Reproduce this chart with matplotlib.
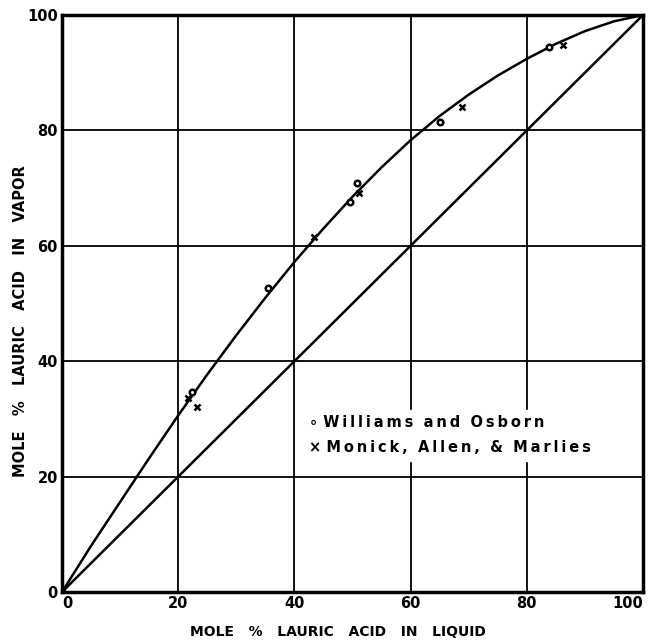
import matplotlib.pyplot as plt

# vapor-liquid equilibrium, lauric acid
curve_x = [0, 5, 10, 15, 20, 25, 30, 35, 40, 45, 50, 55, 60, 65, 70, 75, 80, 85, 90, 95, 100]
curve_y = [0, 8.0, 15.6, 23.2, 30.6, 37.7, 44.5, 51.0, 57.2, 63.0, 68.5, 73.6, 78.3,
           82.5, 86.2, 89.5, 92.4, 95.0, 97.2, 98.9, 100]

williams_x = [0, 22.4, 35.5, 49.5, 50.8, 65.1, 83.9]
williams_y = [0, 34.7, 52.7, 67.6, 70.9, 81.5, 94.5]

monick_x = [21.7, 23.2, 43.3, 51.1, 68.8, 86.2]
monick_y = [33.6, 32.1, 61.5, 69.2, 84.0, 94.8]

ticks = [0, 20, 40, 60, 80, 100]


def spaced(s):
    # letter-spaced text like the original lettering
    return '\u2009'.join(s).replace('\u2009 \u2009', '  ')


fig = plt.figure(figsize=(6.48, 6.43), dpi=100)
ax = fig.add_axes([0.0957, 0.0793, 0.8966, 0.8974])

ax.plot(curve_x, curve_y, color='black', lw=1.8, solid_joinstyle='round')
ax.plot([0, 100], [0, 100], color='black', lw=1.8)
ax.plot(williams_x, williams_y, 'o', ms=4, mfc='white', mec='black', mew=1.8)
ax.plot(monick_x, monick_y, 'x', ms=5, color='black', mew=1.8)

ax.set_xlim(0, 100)
ax.set_ylim(0, 100)
ax.set_xticks(ticks)
ax.set_yticks(ticks)
ax.grid(True, color='black', lw=1.3)
ax.tick_params(length=0, pad=3, labelsize=10.5)
for lab in ax.get_xticklabels() + ax.get_yticklabels():
    lab.set_fontweight('bold')
ax.get_xticklabels()[-1].set_ha('right')
ax.get_xticklabels()[0].set_ha('left')
for s in ax.spines.values():
    s.set_linewidth(2.5)

ax.set_xlabel('MOLE   %   LAURIC   ACID   IN   LIQUID', fontsize=10, fontweight='bold', va='center')
ax.xaxis.set_label_coords(0.475, -0.069)
ax.set_ylabel('MOLE   %   LAURIC   ACID   IN   VAPOR', fontsize=10.5, fontweight='bold', va='center')
ax.yaxis.set_label_coords(-0.072, 0.47)

ax.text(42.5, 29.3, '\u2218 ' + spaced('Williams and Osborn'), fontsize=10.5, fontweight='bold',
        va='center', ha='left', backgroundcolor='white')
ax.text(42.5, 25.0, '\u00d7 ' + spaced('Monick, Allen, & Marlies'), fontsize=10.5, fontweight='bold',
        va='center', ha='left', backgroundcolor='white')

fig.savefig('out.png', dpi=100)
